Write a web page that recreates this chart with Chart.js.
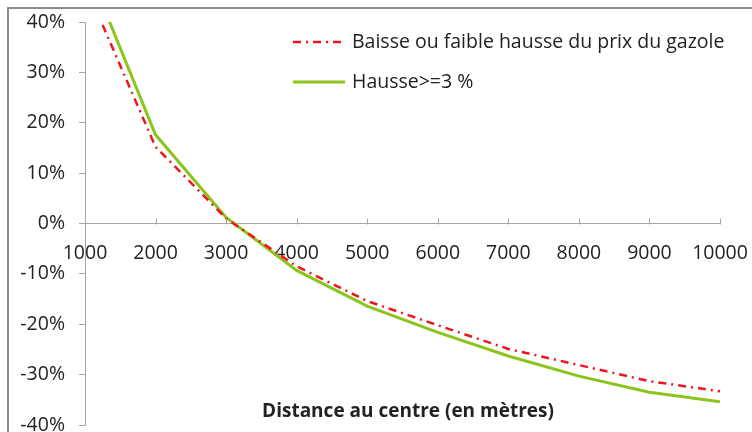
<!DOCTYPE html>
<html>
<head>
<meta charset="utf-8">
<script src="https://cdn.jsdelivr.net/npm/chart.js@4/dist/chart.umd.min.js"></script>
<style>
html,body{margin:0;padding:0;background:#fff;}
canvas{display:block;}
</style>
</head>
<body>
<canvas id="c" width="752" height="432"></canvas>
<script>
const distances = [1250, 2000, 3000, 4000, 5000, 6000, 7000, 8000, 9000, 10000];
const baisse = [39.4, 15.2, 1.0, -8.5, -15.4, -20.2, -24.9, -28.1, -31.3, -33.3];
const hausse = [43.4, 17.6, 1.2, -9.3, -16.4, -21.6, -26.3, -30.3, -33.5, -35.4];
const seriesLabels = ['Baisse ou faible hausse du prix du gazole', 'Hausse>=3 %'];
const xTitle = 'Distance au centre (en mètres)';
const xTicks = [1000, 2000, 3000, 4000, 5000, 6000, 7000, 8000, 9000, 10000];
const yTicks = [-40, -30, -20, -10, 0, 10, 20, 30, 40];

const FONT = '"Open Sans", sans-serif';
const TXT = '#222';
const AXIS = '#a6a6a6';

const decor = {
  id: 'decor',
  afterDraw(chart) {
    const ctx = chart.ctx;
    const xs = chart.scales.x, ys = chart.scales.y;
    ctx.save();
    ctx.strokeStyle = AXIS; ctx.lineWidth = 1;
    const y0 = Math.round(ys.getPixelForValue(0)) + 0.5;
    xTicks.forEach(v => {
      const px = Math.round(xs.getPixelForValue(v)) + 0.5;
      ctx.beginPath(); ctx.moveTo(px, y0); ctx.lineTo(px, y0 - 6); ctx.stroke();
    });
    ctx.strokeStyle = '#8c8c8c'; ctx.lineWidth = 2;
    ctx.beginPath(); ctx.moveTo(8, 432); ctx.lineTo(8, 8); ctx.lineTo(752, 8); ctx.stroke();
    const ds = chart.data.datasets;
    const rows = [42, 82];
    ds.forEach((d, i) => {
      const yy = rows[i];
      ctx.strokeStyle = d.borderColor; ctx.lineWidth = d.borderWidth;
      ctx.setLineDash(d.borderDash || []);
      ctx.beginPath(); ctx.moveTo(293, yy); ctx.lineTo(345, yy); ctx.stroke();
      ctx.setLineDash([]);
      ctx.fillStyle = TXT; ctx.font = '19.5px ' + FONT;
      ctx.textAlign = 'left'; ctx.textBaseline = 'middle';
      ctx.fillText(d.label, 352, yy);
    });
    ctx.fillStyle = TXT; ctx.font = 'bold 19px ' + FONT;
    ctx.textAlign = 'center'; ctx.textBaseline = 'middle';
    ctx.fillText(xTitle, 408, 412);
    ctx.restore();
  }
};

function zeroPad(s) { s.paddingLeft = 0; s.paddingRight = 0; s.paddingTop = 0; s.paddingBottom = 0; }

new Chart(document.getElementById('c'), {
  type: 'line',
  data: {
    datasets: [
      { label: seriesLabels[0], data: distances.map((d, i) => ({x: d, y: baisse[i]})),
        borderColor: '#f0141e', borderWidth: 2.5, borderDash: [8, 5, 2, 5],
        pointRadius: 0, fill: false, tension: 0 },
      { label: seriesLabels[1], data: distances.map((d, i) => ({x: d, y: hausse[i]})),
        borderColor: '#8cc41e', borderWidth: 3,
        pointRadius: 0, fill: false, tension: 0 }
    ]
  },
  options: {
    responsive: false,
    animation: false,
    layout: { padding: { left: 0, top: 22, right: 32, bottom: 7 } },
    plugins: { legend: { display: false }, tooltip: { enabled: false } },
    scales: {
      x: {
        type: 'linear', position: { y: 0 }, min: 1000, max: 10000,
        afterBuildTicks: s => { s.ticks = xTicks.map(v => ({ value: v })); },
        afterFit: s => { s.height = 0; zeroPad(s); },
        grid: { display: false, drawTicks: false },
        border: { display: true, color: AXIS, width: 1 },
        ticks: { color: TXT, font: { family: FONT, size: 19.5 }, padding: 18, maxRotation: 0, autoSkip: false,
                 callback: v => String(v) }
      },
      y: {
        type: 'linear', position: 'left', min: -40, max: 40,
        afterBuildTicks: s => { s.ticks = yTicks.map(v => ({ value: v })); },
        afterFit: s => { s.width = 85; zeroPad(s); },
        grid: { display: true, drawOnChartArea: false, drawTicks: true, tickLength: 6, color: AXIS },
        border: { display: true, color: AXIS, width: 1 },
        ticks: { color: TXT, font: { family: FONT, size: 19.5 }, padding: 14, callback: v => v + '%' }
      }
    }
  },
  plugins: [decor]
});
</script>
</body>
</html>
